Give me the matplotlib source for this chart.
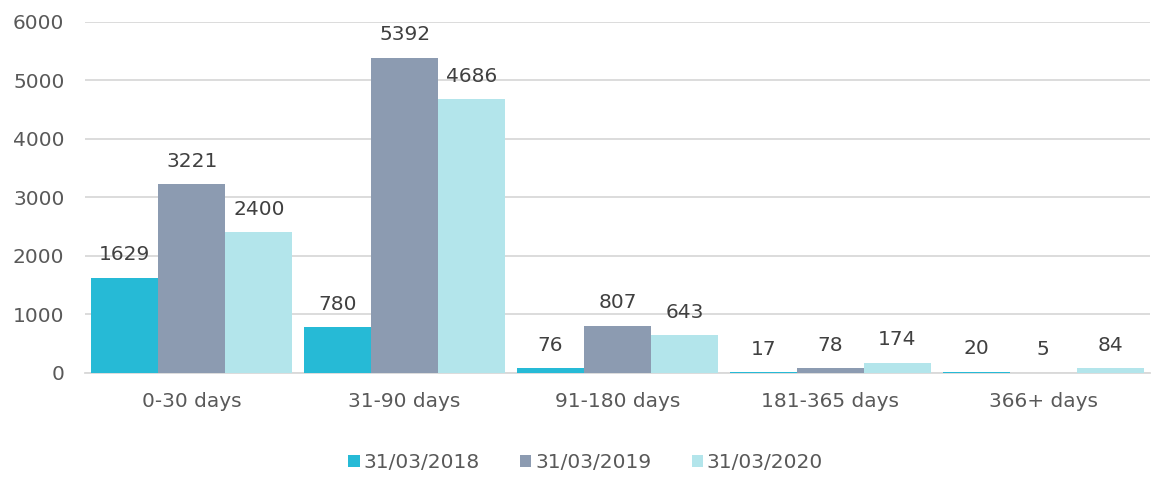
import matplotlib
matplotlib.use("Agg")
import matplotlib.pyplot as plt
import numpy as np

categories = ["0-30 days", "31-90 days", "91-180 days", "181-365 days", "366+ days"]
series_names = ["31/03/2018", "31/03/2019", "31/03/2020"]
v2018 = [1629, 780, 76, 17, 20]
v2019 = [3221, 5392, 807, 78, 5]
v2020 = [2400, 4686, 643, 174, 84]
colors = ["#26BAD6", "#8C9BB1", "#B3E5EB"]

plt.rcParams['font.family'] = ['DejaVu Sans']
fig = plt.figure(figsize=(11.53, 4.78), dpi=100)
ax = fig.add_axes([0.074, 0.22, 0.923, 0.734])

fs = 14.5
x = np.arange(len(categories))
w = 0.315
for i, (vals, name, c) in enumerate(zip([v2018, v2019, v2020], series_names, colors)):
    bars = ax.bar(x + (i - 1) * w, vals, w, color=c, label=name, zorder=3)
    for b, v in zip(bars, vals):
        ax.annotate(str(v), (b.get_x() + b.get_width() / 2, v), xytext=(0, 9.5),
                    textcoords="offset points", ha="center", va="bottom",
                    fontsize=fs, color="#404040", zorder=4)

ax.set_xlim(-0.5, len(categories) - 0.5)
ax.set_ylim(0, 6000)
ax.set_yticks(np.arange(0, 6001, 1000))
ax.yaxis.grid(True, color="#D9D9D9", linewidth=1.3, zorder=0)
ax.set_axisbelow(True)
for s in ["top", "right", "left"]:
    ax.spines[s].set_visible(False)
ax.spines["bottom"].set_color("#D9D9D9")
ax.spines["bottom"].set_linewidth(1.3)
ax.tick_params(axis="both", length=0, labelsize=fs, labelcolor="#595959")
ax.tick_params(axis="y", pad=15)
ax.tick_params(axis="x", pad=14)
ax.set_xticks(x)
ax.set_xticklabels(categories)

leg = fig.legend(loc="center", bbox_to_anchor=(0.508, 0.033), ncol=3, frameon=False,
                 fontsize=fs, handlelength=0.55, handleheight=0.55, handletextpad=0.2,
                 columnspacing=2.0, labelcolor="#595959")

fig.savefig("out.png", dpi=100)
